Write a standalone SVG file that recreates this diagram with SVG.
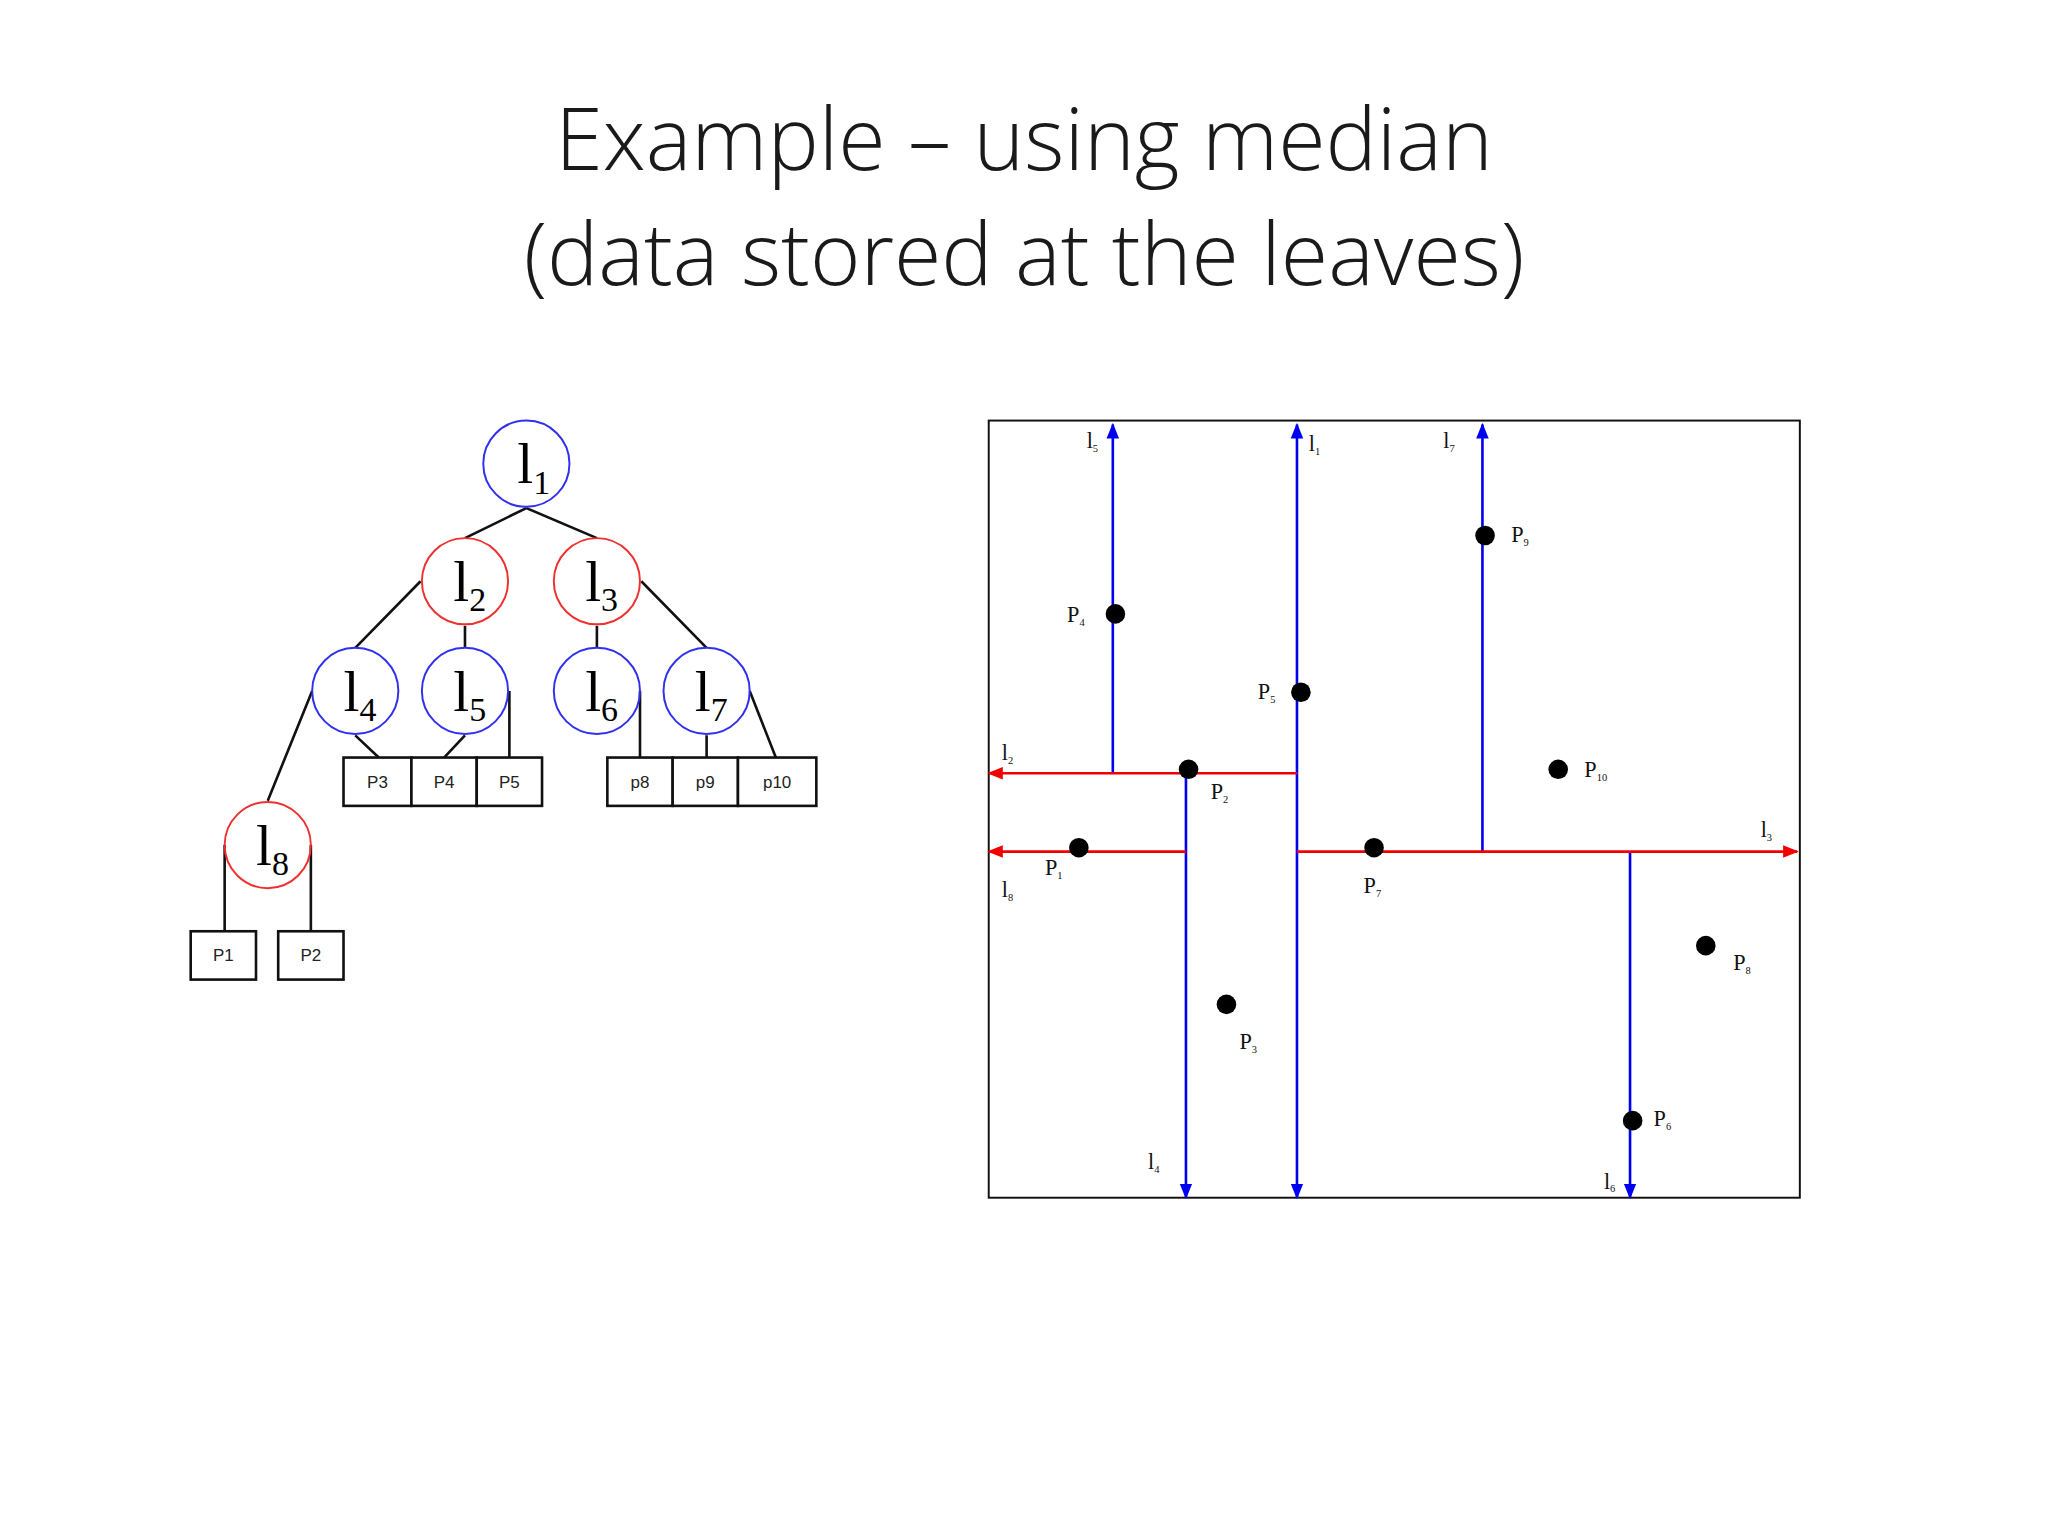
<svg xmlns="http://www.w3.org/2000/svg" width="2048" height="1536" viewBox="0 0 2048 1536">
<style>
.title{font-family:"Open Sans","Liberation Sans",sans-serif;font-weight:300;font-size:66px;fill:#1a1a1a;text-anchor:middle}
.nb{fill:none;stroke:#3030f0;stroke-width:1.5}
.nr{fill:none;stroke:#f03030;stroke-width:1.5}
.nl{font-family:"Liberation Serif",serif;font-size:44px;fill:#000}
.sub{font-size:26px}
.e{stroke:#111;stroke-width:2;fill:none}
.box{fill:#fff;stroke:#111;stroke-width:2}
.bt{font-family:"Liberation Sans",sans-serif;font-size:13px;fill:#222;text-anchor:middle}
.bl{stroke:#0000f0;stroke-width:2}
.rd{stroke:#f00000;stroke-width:2}
.pt{fill:#000}
.pl{font-family:"Liberation Serif",serif;font-size:17px;fill:#111}
.ps{font-size:8px}
</style>
<defs>
<marker id="ab" viewBox="0 0 10 10" refX="9" refY="5" markerWidth="6" markerHeight="6" orient="auto"><path d="M0,1 L10,5 L0,9 z" fill="#0000f0"/></marker>
<marker id="ar" viewBox="0 0 10 10" refX="9" refY="5" markerWidth="6" markerHeight="6" orient="auto"><path d="M0,1 L10,5 L0,9 z" fill="#f00000"/></marker>
</defs>
<rect width="2048" height="1536" fill="#fff"/>
<g transform="scale(1.30612)">
<text class="title" x="784" y="130">Example – using median</text>
<text class="title" x="784" y="218">(data stored at the leaves)</text>

<g id="tree-edges">
<path class="e" d="M403,389 L356,412 M403,389 L457,412 M322,445 L272,496 M356,479 L356,496 M457,479 L457,496 M491,445 L541,496 M239,529 L205,613 M272,563 L290,580 M356,563 L340,580 M390,529 L390,580 M490,529 L490,580 M541,563 L541,580 M574,529 L594,580 M172,647 L172,713 M238,647 L238,713"/>
</g>
<g id="n1"><circle class="nb" cx="403" cy="355" r="33"/><text class="nl" x="396" y="370">l<tspan class="sub" dy="8">1</tspan></text></g>
<g id="n2"><circle class="nr" cx="356" cy="445" r="33"/><text class="nl" x="347" y="460">l<tspan class="sub" dy="8">2</tspan></text></g>
<g id="n3"><circle class="nr" cx="457" cy="445" r="33"/><text class="nl" x="448" y="460">l<tspan class="sub" dy="8">3</tspan></text></g>
<g id="n4"><circle class="nb" cx="272" cy="529" r="33"/><text class="nl" x="263" y="544">l<tspan class="sub" dy="8">4</tspan></text></g>
<g id="n5"><circle class="nb" cx="356" cy="529" r="33"/><text class="nl" x="347" y="544">l<tspan class="sub" dy="8">5</tspan></text></g>
<g id="n6"><circle class="nb" cx="457" cy="529" r="33"/><text class="nl" x="448" y="544">l<tspan class="sub" dy="8">6</tspan></text></g>
<g id="n7"><circle class="nb" cx="541" cy="529" r="33"/><text class="nl" x="532" y="544">l<tspan class="sub" dy="8">7</tspan></text></g>
<g id="n8"><circle class="nr" cx="205" cy="647" r="33"/><text class="nl" x="196" y="662">l<tspan class="sub" dy="8">8</tspan></text></g>

<g id="leafP3"><rect class="box" x="263" y="580" width="52" height="37"/><text class="bt" x="289" y="603">P3</text></g>
<g id="leafP4"><rect class="box" x="315" y="580" width="50" height="37"/><text class="bt" x="340" y="603">P4</text></g>
<g id="leafP5"><rect class="box" x="365" y="580" width="50" height="37"/><text class="bt" x="390" y="603">P5</text></g>
<g id="leafp8"><rect class="box" x="465" y="580" width="50" height="37"/><text class="bt" x="490" y="603">p8</text></g>
<g id="leafp9"><rect class="box" x="515" y="580" width="50" height="37"/><text class="bt" x="540" y="603">p9</text></g>
<g id="leafp10"><rect class="box" x="565" y="580" width="60" height="37"/><text class="bt" x="595" y="603">p10</text></g>
<g id="leafP1"><rect class="box" x="146" y="713" width="50" height="37"/><text class="bt" x="171" y="736">P1</text></g>
<g id="leafP2"><rect class="box" x="213" y="713" width="50" height="37"/><text class="bt" x="238" y="736">P2</text></g>

<g id="plane">
<rect x="757" y="322" width="621" height="595" fill="none" stroke="#111" stroke-width="1.5"/>
<line class="bl" x1="852" y1="592" x2="852" y2="325" marker-end="url(#ab)"/>
<line class="bl" x1="993" y1="592" x2="993" y2="325" marker-end="url(#ab)"/>
<line class="bl" x1="993" y1="592" x2="993" y2="917" marker-end="url(#ab)"/>
<line class="bl" x1="1135" y1="652" x2="1135" y2="325" marker-end="url(#ab)"/>
<line class="bl" x1="908" y1="592" x2="908" y2="917" marker-end="url(#ab)"/>
<line class="bl" x1="1248" y1="652" x2="1248" y2="917" marker-end="url(#ab)"/>
<line class="rd" x1="993" y1="592" x2="757" y2="592" marker-end="url(#ar)"/>
<line class="rd" x1="908" y1="652" x2="757" y2="652" marker-end="url(#ar)"/>
<line class="rd" x1="993" y1="652" x2="1376" y2="652" marker-end="url(#ar)"/>
<g class="pt">
<circle cx="854" cy="470" r="7.5"/><circle cx="996" cy="530" r="7.5"/><circle cx="1137" cy="410" r="7.5"/>
<circle cx="910" cy="589" r="7.5"/><circle cx="1193" cy="589" r="7.5"/><circle cx="826" cy="649" r="7.5"/>
<circle cx="1052" cy="649" r="7.5"/><circle cx="1306" cy="724" r="7.5"/><circle cx="939" cy="769" r="7.5"/>
<circle cx="1250" cy="858" r="7.5"/>
</g>
<text class="pl" x="817" y="476">P<tspan class="ps" dy="3">4</tspan></text>
<text class="pl" x="963" y="535">P<tspan class="ps" dy="3">5</tspan></text>
<text class="pl" x="1157" y="415">P<tspan class="ps" dy="3">9</tspan></text>
<text class="pl" x="927" y="612">P<tspan class="ps" dy="3">2</tspan></text>
<text class="pl" x="1213" y="595">P<tspan class="ps" dy="3">10</tspan></text>
<text class="pl" x="800" y="670">P<tspan class="ps" dy="3">1</tspan></text>
<text class="pl" x="1044" y="684">P<tspan class="ps" dy="3">7</tspan></text>
<text class="pl" x="1327" y="743">P<tspan class="ps" dy="3">8</tspan></text>
<text class="pl" x="949" y="803">P<tspan class="ps" dy="3">3</tspan></text>
<text class="pl" x="1266" y="862">P<tspan class="ps" dy="3">6</tspan></text>
<text class="pl" x="832" y="343">l<tspan class="ps" dy="3">5</tspan></text>
<text class="pl" x="1002" y="345">l<tspan class="ps" dy="3">1</tspan></text>
<text class="pl" x="1105" y="343">l<tspan class="ps" dy="3">7</tspan></text>
<text class="pl" x="767" y="582">l<tspan class="ps" dy="3">2</tspan></text>
<text class="pl" x="767" y="687">l<tspan class="ps" dy="3">8</tspan></text>
<text class="pl" x="1348" y="641">l<tspan class="ps" dy="3">3</tspan></text>
<text class="pl" x="879" y="895">l<tspan class="ps" dy="3">4</tspan></text>
<text class="pl" x="1228" y="910">l<tspan class="ps" dy="3">6</tspan></text>
</g>
</g>
</svg>
